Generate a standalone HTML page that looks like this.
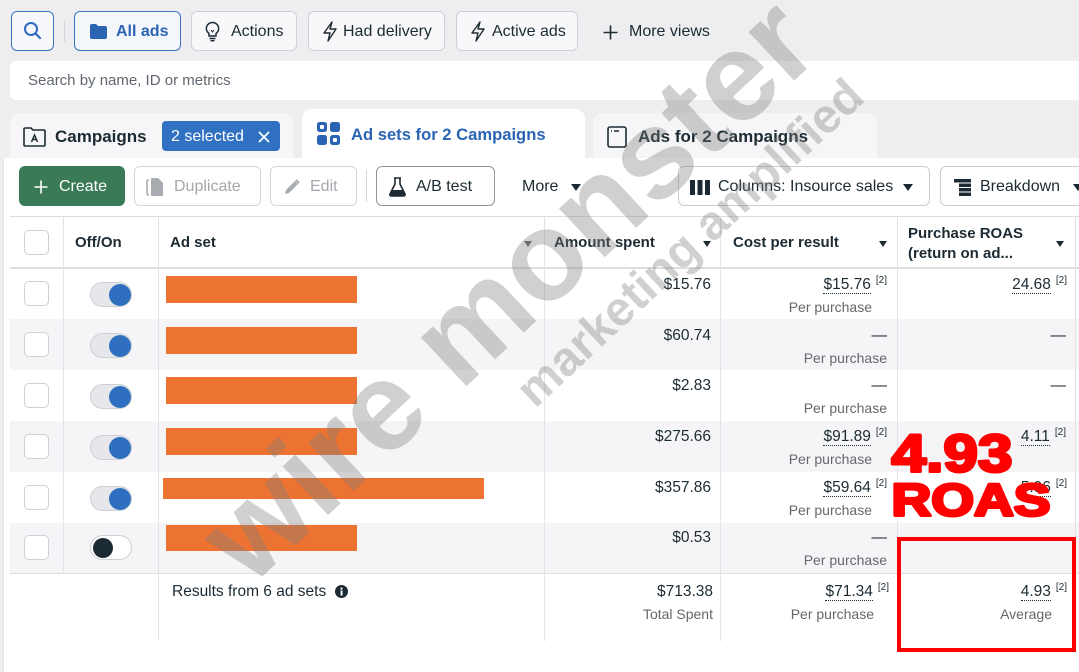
<!DOCTYPE html>
<html><head><meta charset="utf-8">
<style>
*{margin:0;padding:0;box-sizing:border-box}
body{width:1079px;height:672px;overflow:hidden;background:#eeeef1;font-family:"Liberation Sans",sans-serif;color:#1c2b33;position:relative}
.a{position:absolute}
.btn{position:absolute;height:40px;border:1px solid #cfd1d5;border-radius:6px;background:#f8f8fa}
.t{position:absolute;white-space:nowrap;line-height:20px;font-size:16px}
.h{position:absolute;white-space:nowrap;line-height:20px;font-size:15px;font-weight:bold}
.v{position:absolute;white-space:nowrap;line-height:20px;font-size:15.5px;text-align:right}
.s{position:absolute;white-space:nowrap;line-height:20px;font-size:14px;color:#65676b;text-align:right}
.u{border-bottom:1px dotted #1c2b33}
sup{font-size:10px;vertical-align:6px;margin-left:5px;line-height:0}
.tri{position:absolute;width:0;height:0;border-left:4.5px solid transparent;border-right:4.5px solid transparent;border-top:6px solid #1c2b33}
.cb{position:absolute;left:24px;width:25px;height:25px;border:1px solid #cdd0d4;border-radius:5px;background:#fff}
.tg{position:absolute;left:90px;width:42px;height:25px;border:1px solid #cdd0d4;border-radius:13px;background:#e6e7eb}
.kn{position:absolute;width:22px;height:22px;border-radius:50%;background:#2f6fbf;top:0.5px;left:18px}
.bar{position:absolute;background:#ec7331}
.vl{position:absolute;width:1px;background:#e2e4e8}
</style></head><body>

<!-- top view buttons -->
<div class="btn" style="left:11px;top:11px;width:43px;border-color:#3a74c0;background:#f6f8fc"></div>
<svg class="a" style="left:22px;top:20px" width="22" height="22" viewBox="0 0 22 22"><circle cx="9" cy="9" r="6" fill="none" stroke="#2f6bbf" stroke-width="2"/><line x1="13.5" y1="13.5" x2="18" y2="18" stroke="#2f6bbf" stroke-width="2.2" stroke-linecap="round"/></svg>
<div class="a" style="left:64px;top:20px;width:1px;height:22px;background:#d3d5d9"></div>

<div class="btn" style="left:74px;top:11px;width:107px;border-color:#3a74c0;background:#f3f6fb"></div>
<svg class="a" style="left:89px;top:23px" width="19" height="17" viewBox="0 0 19 17"><path d="M1 3 Q1 1 3 1 H7 L9 3 H16 Q18 3 18 5 V14 Q18 16 16 16 H3 Q1 16 1 14 Z" fill="#2c64b4"/></svg>
<div class="t" style="left:116px;top:22px;font-weight:bold;color:#2c64b4">All ads</div>

<div class="btn" style="left:191px;top:11px;width:106px"></div>
<svg class="a" style="left:205px;top:21px" width="15" height="21" viewBox="0 0 15 21"><path d="M7.5 1.5 A6 6 0 0 1 11 12.5 V15 H4 V12.5 A6 6 0 0 1 7.5 1.5 Z" fill="none" stroke="#1c2b33" stroke-width="1.5"/><line x1="4.5" y1="17.5" x2="10.5" y2="17.5" stroke="#1c2b33" stroke-width="1.5"/><line x1="5.5" y1="19.7" x2="9.5" y2="19.7" stroke="#1c2b33" stroke-width="1.5"/><path d="M6 9 L7.5 11 L9 9" fill="none" stroke="#1c2b33" stroke-width="1"/></svg>
<div class="t" style="left:231px;top:22px">Actions</div>

<div class="btn" style="left:308px;top:11px;width:137px"></div>
<svg class="a" style="left:322px;top:21px" width="16" height="21" viewBox="0 0 16 21"><path d="M10 1 L2 12 H8 L6 20 L14 8 H8 Z" fill="none" stroke="#1c2b33" stroke-width="1.4" stroke-linejoin="round"/></svg>
<div class="t" style="left:343px;top:22px">Had delivery</div>

<div class="btn" style="left:456px;top:11px;width:122px"></div>
<svg class="a" style="left:470px;top:21px" width="16" height="21" viewBox="0 0 16 21"><path d="M10 1 L2 12 H8 L6 20 L14 8 H8 Z" fill="none" stroke="#1c2b33" stroke-width="1.4" stroke-linejoin="round"/></svg>
<div class="t" style="left:492px;top:22px">Active ads</div>

<svg class="a" style="left:603px;top:25px" width="15" height="15" viewBox="0 0 15 15"><path d="M7.5 0.5 V14.5 M0.5 7.5 H14.5" stroke="#1c2b33" stroke-width="1.6"/></svg>
<div class="t" style="left:629px;top:22px">More views</div>

<!-- search bar -->
<div class="a" style="left:10px;top:61px;width:1069px;height:39px;background:#fff;border-radius:6px 0 0 6px"></div>
<div class="t" style="left:28px;top:71px;font-size:15px;color:#606770">Search by name, ID or metrics</div>

<!-- tabs -->
<div class="a" style="left:10px;top:113px;width:283px;height:45px;background:#f6f6f8;border-radius:10px 10px 0 0"></div>
<svg class="a" style="left:23px;top:127px" width="23" height="20" viewBox="0 0 23 20"><path d="M1 2 Q1 1 2 1 H8 L10 3 H21 Q22 3 22 4 V18 Q22 19 21 19 H2 Q1 19 1 18 Z" fill="none" stroke="#1c2b33" stroke-width="1.6"/><path d="M8.5 15 L11.5 8 L14.5 15 M9.8 12.5 H13.2" fill="none" stroke="#1c2b33" stroke-width="1.5"/></svg>
<div class="t" style="left:55px;top:127px;font-size:17px;font-weight:bold">Campaigns</div>
<div class="a" style="left:162px;top:121px;width:118px;height:30px;background:#3071c1;border-radius:4px"></div>
<div class="t" style="left:171px;top:127px;color:#fff">2 selected</div>
<svg class="a" style="left:258px;top:131px" width="12" height="12" viewBox="0 0 12 12"><path d="M1 1 L11 11 M11 1 L1 11" stroke="#fff" stroke-width="1.8"/></svg>

<div class="a" style="left:302px;top:109px;width:283px;height:52px;background:#fff;border-radius:10px 10px 0 0"></div>
<svg class="a" style="left:316px;top:121px" width="25" height="25" viewBox="0 0 25 25"><rect x="1" y="1" width="10" height="10" rx="2.5" fill="#2c64b4"/><rect x="14" y="1" width="10" height="10" rx="2.5" fill="#2c64b4"/><rect x="1" y="14" width="10" height="10" rx="2.5" fill="#2c64b4"/><rect x="14" y="14" width="10" height="10" rx="2.5" fill="#2c64b4"/><rect x="4" y="4" width="4" height="4" rx="1" fill="#fff"/><rect x="17" y="17" width="4" height="4" rx="1" fill="#fff"/></svg>
<div class="t" style="left:351px;top:125px;font-size:16.6px;font-weight:bold;color:#2c64b4">Ad sets for 2 Campaigns</div>

<div class="a" style="left:593px;top:113px;width:284px;height:45px;background:#f6f6f8;border-radius:10px 10px 0 0"></div>
<svg class="a" style="left:607px;top:126px" width="20" height="22" viewBox="0 0 20 22"><rect x="1" y="1" width="18" height="20" rx="2" fill="none" stroke="#1c2b33" stroke-width="1.6"/><path d="M4 5 H5 M7 5 H12" stroke="#1c2b33" stroke-width="1.6"/></svg>
<div class="t" style="left:638px;top:127px;font-size:17px;font-weight:bold">Ads for 2 Campaigns</div>

<!-- content area -->
<div class="a" style="left:3px;top:158px;width:1076px;height:514px;background:#fff;border-left:1px solid #e2e3e6"></div>

<!-- toolbar -->
<div class="a" style="left:19px;top:166px;width:106px;height:40px;background:#3a7a57;border-radius:6px"></div>
<svg class="a" style="left:34px;top:180px" width="14" height="14" viewBox="0 0 14 14"><path d="M7 0.5 V13.5 M0.5 7 H13.5" stroke="#fff" stroke-width="1.6"/></svg>
<div class="t" style="left:59px;top:177px;color:#fff">Create</div>

<div class="btn" style="left:134px;top:166px;width:127px;background:#fff;border-color:#d3d5d9"></div>
<svg class="a" style="left:146px;top:177px" width="20" height="20" viewBox="0 0 20 20"><path d="M3 3 Q1 3 1 5 V16 Q1 18 3 18" fill="none" stroke="#a8abb0" stroke-width="1.6"/><path d="M6 1 H12 L17 6 V18 Q17 19 16 19 H6 Q5 19 5 18 V2 Q5 1 6 1 Z" fill="#a8abb0"/></svg>
<div class="t" style="left:174px;top:177px;color:#a4a7ac">Duplicate</div>

<div class="btn" style="left:270px;top:166px;width:87px;background:#fff;border-color:#d3d5d9"></div>
<svg class="a" style="left:284px;top:179px" width="16" height="16" viewBox="0 0 16 16"><path d="M1 15 L2 11 L11 2 L14 5 L5 14 Z" fill="#a8abb0"/><path d="M12 1 L15 4" stroke="#a8abb0" stroke-width="2"/></svg>
<div class="t" style="left:310px;top:177px;color:#a4a7ac">Edit</div>

<div class="a" style="left:366px;top:170px;width:1px;height:32px;background:#d3d5d9"></div>

<div class="btn" style="left:376px;top:166px;width:119px;background:#fff;border-color:#90959c"></div>
<svg class="a" style="left:389px;top:177px" width="17" height="20" viewBox="0 0 17 20"><path d="M5 1 H12 M6 1 V7 L1 17 Q0.5 19 2.5 19 H14.5 Q16.5 19 16 17 L11 7 V1" fill="none" stroke="#1c2b33" stroke-width="1.6"/><path d="M3.5 13 H13.5 L15.5 17.5 Q15.5 18.5 14 18.5 H3 Q1.5 18.5 1.5 17.5 Z" fill="#1c2b33"/></svg>
<div class="t" style="left:416px;top:177px">A/B test</div>

<div class="t" style="left:522px;top:177px">More</div>
<div class="tri" style="left:571px;top:184px;border-left-width:5.5px;border-right-width:5.5px;border-top-width:7px"></div>

<div class="btn" style="left:678px;top:166px;width:252px;background:#fff;border-color:#c8cbd0"></div>
<svg class="a" style="left:690px;top:180px" width="20" height="15" viewBox="0 0 20 15"><rect x="0" y="0" width="5" height="15" fill="#1c2b33"/><rect x="7.5" y="0" width="5" height="15" fill="#1c2b33"/><rect x="15" y="0" width="5" height="15" fill="#1c2b33"/></svg>
<div class="t" style="left:718px;top:177px">Columns: Insource sales</div>
<div class="tri" style="left:903px;top:184px;border-left-width:5.5px;border-right-width:5.5px;border-top-width:7px"></div>

<div class="btn" style="left:940px;top:166px;width:160px;background:#fff;border-color:#c8cbd0"></div>
<svg class="a" style="left:954px;top:179px" width="17" height="17" viewBox="0 0 17 17"><rect x="0" y="0" width="17" height="3.5" fill="#1c2b33"/><rect x="5" y="4.5" width="12" height="3.5" fill="#1c2b33"/><rect x="5" y="9" width="12" height="3.5" fill="#1c2b33"/><rect x="5" y="13.5" width="12" height="3.5" fill="#1c2b33"/></svg>
<div class="t" style="left:980px;top:177px">Breakdown</div>
<div class="tri" style="left:1073px;top:184px;border-left-width:5.5px;border-right-width:5.5px;border-top-width:7px"></div>

<!-- table backgrounds -->
<div class="a" style="left:10px;top:319px;width:1069px;height:51px;background:#f5f5f7"></div>
<div class="a" style="left:10px;top:421px;width:1069px;height:51px;background:#f5f5f7"></div>
<div class="a" style="left:10px;top:523px;width:1069px;height:50px;background:#f5f5f7"></div>

<div class="a" style="left:10px;top:216px;width:1069px;height:1px;background:#dcdee2"></div>
<div class="a" style="left:10px;top:267px;width:1069px;height:2px;background:#dcdee2"></div>
<div class="a" style="left:10px;top:573px;width:1069px;height:1px;background:#dcdee2"></div>

<div class="vl" style="left:63px;top:216px;height:357px"></div>
<div class="vl" style="left:158px;top:216px;height:425px"></div>
<div class="vl" style="left:544px;top:216px;height:425px"></div>
<div class="vl" style="left:720px;top:216px;height:425px"></div>
<div class="vl" style="left:897px;top:216px;height:425px"></div>
<div class="vl" style="left:1075px;top:216px;height:425px"></div>

<!-- header -->
<div class="cb" style="top:230px"></div>
<div class="h" style="left:75px;top:233px">Off/On</div>
<div class="h" style="left:170px;top:233px">Ad set</div>
<div class="tri" style="left:524px;top:241px;border-top-color:#65676b"></div>
<div class="h" style="left:554px;top:233px">Amount spent</div>
<div class="tri" style="left:703px;top:241px"></div>
<div class="h" style="left:733px;top:233px">Cost per result</div>
<div class="tri" style="left:879px;top:241px"></div>
<div class="h" style="left:908px;top:224px">Purchase ROAS</div>
<div class="h" style="left:908px;top:244px">(return on ad...</div>
<div class="tri" style="left:1056px;top:241px"></div>

<!-- rows: checkboxes & toggles -->
<div class="cb" style="top:281px"></div>
<div class="cb" style="top:332px"></div>
<div class="cb" style="top:383px"></div>
<div class="cb" style="top:434px"></div>
<div class="cb" style="top:485px"></div>
<div class="cb" style="top:535px"></div>

<div class="tg" style="top:282px"><div class="kn"></div></div>
<div class="tg" style="top:333px"><div class="kn"></div></div>
<div class="tg" style="top:384px"><div class="kn"></div></div>
<div class="tg" style="top:435px"><div class="kn"></div></div>
<div class="tg" style="top:486px"><div class="kn"></div></div>
<div class="tg" style="top:535px;background:#fff"><div class="kn" style="left:1.5px;top:1.5px;width:20px;height:20px;background:#1c2b33"></div></div>

<!-- bars -->
<div class="bar" style="left:166px;top:276px;width:191px;height:27px"></div>
<div class="bar" style="left:166px;top:327px;width:191px;height:27px"></div>
<div class="bar" style="left:166px;top:377px;width:191px;height:27px"></div>
<div class="bar" style="left:166px;top:428px;width:191px;height:27px"></div>
<div class="bar" style="left:163px;top:478px;width:321px;height:21px"></div>
<div class="bar" style="left:166px;top:525px;width:191px;height:26px"></div>

<!-- amount spent -->
<div class="v" style="left:600px;width:111px;top:275px">$15.76</div>
<div class="v" style="left:600px;width:111px;top:326px">$60.74</div>
<div class="v" style="left:600px;width:111px;top:376px">$2.83</div>
<div class="v" style="left:600px;width:111px;top:427px">$275.66</div>
<div class="v" style="left:600px;width:111px;top:478px">$357.86</div>
<div class="v" style="left:600px;width:111px;top:528px">$0.53</div>

<!-- cost per result -->
<div class="v" style="left:740px;width:147px;top:275px"><span class="u">$15.76</span><sup>[2]</sup></div>
<div class="s" style="left:740px;width:132px;top:297px">Per purchase</div>
<div class="v" style="left:740px;width:147px;top:326px">—</div>
<div class="s" style="left:740px;width:147px;top:348px">Per purchase</div>
<div class="v" style="left:740px;width:147px;top:376px">—</div>
<div class="s" style="left:740px;width:147px;top:398px">Per purchase</div>
<div class="v" style="left:740px;width:147px;top:427px"><span class="u">$91.89</span><sup>[2]</sup></div>
<div class="s" style="left:740px;width:132px;top:449px">Per purchase</div>
<div class="v" style="left:740px;width:147px;top:478px"><span class="u">$59.64</span><sup>[2]</sup></div>
<div class="s" style="left:740px;width:132px;top:500px">Per purchase</div>
<div class="v" style="left:740px;width:147px;top:528px">—</div>
<div class="s" style="left:740px;width:147px;top:550px">Per purchase</div>

<!-- ROAS -->
<div class="v" style="left:920px;width:147px;top:275px"><span class="u">24.68</span><sup>[2]</sup></div>
<div class="v" style="left:920px;width:146px;top:326px">—</div>
<div class="v" style="left:920px;width:146px;top:376px">—</div>
<div class="v" style="left:920px;width:146px;top:427px"><span class="u">4.11</span><sup>[2]</sup></div>
<div class="v" style="left:920px;width:147px;top:478px"><span class="u">5.96</span><sup>[2]</sup></div>
<div class="v" style="left:920px;width:146px;top:528px">—</div>

<!-- footer -->
<div class="t" style="left:172px;top:582px;font-size:15.5px">Results from 6 ad sets</div>
<svg class="a" style="left:335px;top:585px" width="13" height="13" viewBox="0 0 13 13"><circle cx="6.5" cy="6.5" r="6.5" fill="#1c2b33"/><rect x="5.6" y="5.5" width="1.9" height="5" fill="#fff"/><circle cx="6.5" cy="3.6" r="1.1" fill="#fff"/></svg>
<div class="v" style="left:600px;width:113px;top:582px">$713.38</div>
<div class="s" style="left:600px;width:113px;top:604px">Total Spent</div>
<div class="v" style="left:740px;width:149px;top:582px"><span class="u">$71.34</span><sup>[2]</sup></div>
<div class="s" style="left:740px;width:134px;top:604px">Per purchase</div>
<div class="v" style="left:920px;width:147px;top:582px"><span class="u">4.93</span><sup>[2]</sup></div>
<div class="s" style="left:920px;width:132px;top:604px">Average</div>

<!-- overlay: watermark + annotation -->
<svg class="a" style="left:0;top:0" width="1079" height="672" viewBox="0 0 1079 672">
<g fill="#7c7c7c" fill-opacity="0.36" font-family="Liberation Sans, sans-serif" font-weight="bold">
<text x="250" y="588" font-size="126" transform="rotate(-43 250 588)">wire monster</text>
<text x="535" y="409" font-size="48" transform="rotate(-43 535 409)">marketing amplified</text>
</g>
<rect x="899" y="539" width="175" height="111" fill="none" stroke="#ff0000" stroke-width="4"/>
<g fill="#ff0000" stroke="#ff0000" stroke-width="3" stroke-linejoin="round" font-family="Liberation Sans, sans-serif" font-weight="bold">
<text x="891.5" y="471.5" font-size="53" textLength="121" lengthAdjust="spacingAndGlyphs">4.93</text>
<text x="891.5" y="515.5" font-size="45" textLength="159" lengthAdjust="spacingAndGlyphs">ROAS</text>
</g>
</svg>

</body></html>
